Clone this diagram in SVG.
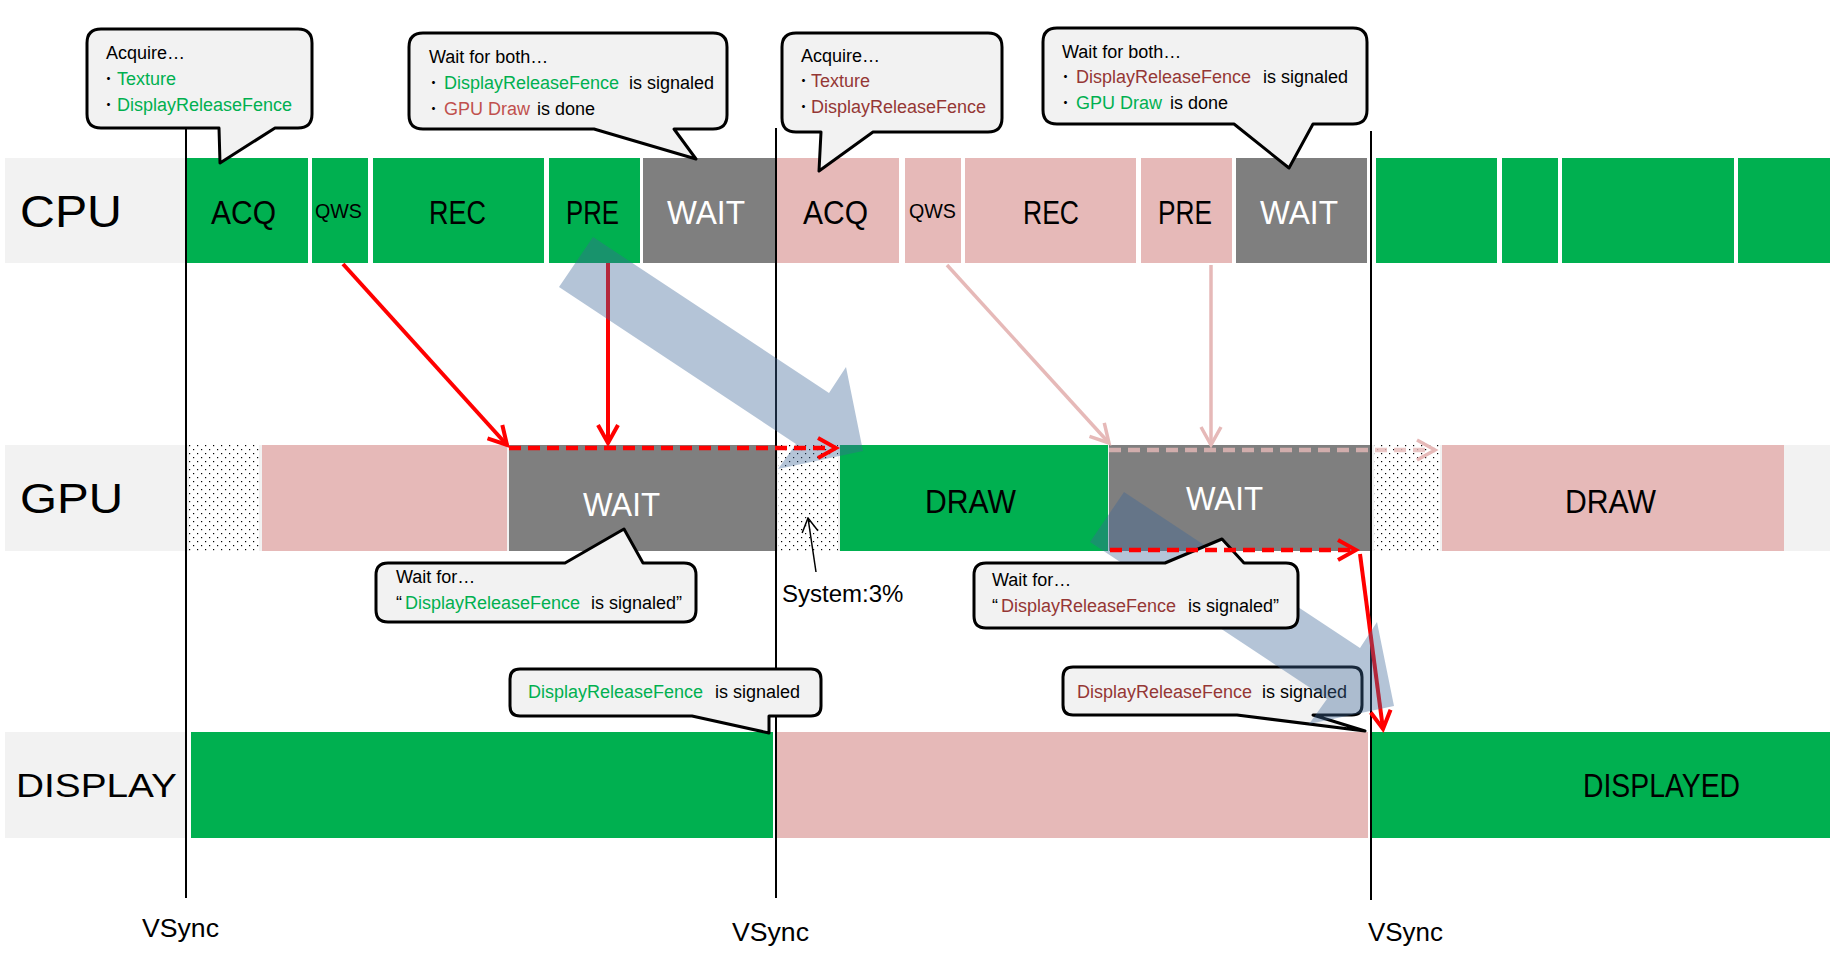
<svg xmlns="http://www.w3.org/2000/svg" width="1830" height="958" viewBox="0 0 1830 958">
<style>
.g{fill:#00B050}.p{fill:#E6B9B8}.k{fill:#7F7F7F}.lb{fill:#F2F2F2}
.lbl{font-family:"Liberation Sans",Arial,sans-serif;fill:#000}
.bx{font-family:"Liberation Sans",Arial,sans-serif;font-size:34px;fill:#000}
.qws{font-family:"Liberation Sans",Arial,sans-serif;font-size:20px;fill:#000}
.w{fill:#fff}
.ct{font-family:"Liberation Sans",Arial,"Noto Sans CJK JP",sans-serif;font-size:18px;fill:#000}
.gt{fill:#00B050}.rt{fill:#953735}.lr{fill:#C0504D}
.co{fill:#F2F2F2;stroke:#000;stroke-width:3;stroke-linejoin:round}
.vs{stroke:#000;stroke-width:2}
.flow{fill:#3D6697;fill-opacity:0.39}
</style>
<defs>
<pattern id="dots" width="8" height="8" patternUnits="userSpaceOnUse">
<rect width="8" height="8" fill="#fff"/>
<rect x="1" y="1" width="1.2" height="1.2" fill="#000"/>
<rect x="5" y="5" width="1.2" height="1.2" fill="#000"/>
</pattern>
<marker id="ar" viewBox="0 0 24 24" refX="20" refY="12" markerWidth="24" markerHeight="24" markerUnits="userSpaceOnUse" orient="auto">
<path d="M2,2 L20,12 L2,22" fill="none" stroke="#FF0000" stroke-width="4"/>
</marker>
<marker id="ap" viewBox="0 0 24 24" refX="20" refY="12" markerWidth="24" markerHeight="24" markerUnits="userSpaceOnUse" orient="auto">
<path d="M2,2 L20,12 L2,22" fill="none" stroke="#E6B9B8" stroke-width="3.5"/>
</marker>
<marker id="ak" viewBox="0 0 16 18" refX="15" refY="9" markerWidth="16" markerHeight="18" markerUnits="userSpaceOnUse" orient="auto">
<path d="M1,1 L15,9 L1,17" fill="none" stroke="#000" stroke-width="1.5"/>
</marker>
</defs>
<rect width="1830" height="958" fill="#fff"/>

<!-- row labels -->
<g id="row-cpu"><rect class="lb" x="5" y="158" width="181" height="105"/><text class="lbl" x="20" y="227" font-size="44" textLength="102" lengthAdjust="spacingAndGlyphs">CPU</text></g>
<g id="row-gpu"><rect class="lb" x="5" y="445" width="1825" height="106"/><text class="lbl" x="20" y="513" font-size="42" textLength="103" lengthAdjust="spacingAndGlyphs">GPU</text></g>
<g id="row-display"><rect class="lb" x="5" y="732" width="180" height="106"/><text class="lbl" x="16" y="797" font-size="34" textLength="161" lengthAdjust="spacingAndGlyphs">DISPLAY</text></g>

<!-- CPU boxes -->
<g id="cpu-acq1"><rect class="g" x="186" y="158" width="122" height="105"/><text class="bx" x="211" y="224" textLength="65" lengthAdjust="spacingAndGlyphs">ACQ</text></g>
<g id="cpu-qws1"><rect class="g" x="312" y="158" width="56" height="105"/><text class="qws" x="315" y="218" textLength="47" lengthAdjust="spacingAndGlyphs">QWS</text></g>
<g id="cpu-rec1"><rect class="g" x="373" y="158" width="171" height="105"/><text class="bx" x="429" y="224" textLength="57" lengthAdjust="spacingAndGlyphs">REC</text></g>
<g id="cpu-pre1"><rect class="g" x="549" y="158" width="91" height="105"/><text class="bx" x="566" y="224" textLength="53" lengthAdjust="spacingAndGlyphs">PRE</text></g>
<g id="cpu-wait1"><rect class="k" x="643" y="158" width="133" height="105"/><text class="bx w" x="667" y="224" textLength="78" lengthAdjust="spacingAndGlyphs">WAIT</text></g>
<g id="cpu-acq2"><rect class="p" x="777" y="158" width="122" height="105"/><text class="bx" x="803" y="224" textLength="65" lengthAdjust="spacingAndGlyphs">ACQ</text></g>
<g id="cpu-qws2"><rect class="p" x="905" y="158" width="56" height="105"/><text class="qws" x="909" y="218" textLength="47" lengthAdjust="spacingAndGlyphs">QWS</text></g>
<g id="cpu-rec2"><rect class="p" x="965" y="158" width="171" height="105"/><text class="bx" x="1023" y="224" textLength="56" lengthAdjust="spacingAndGlyphs">REC</text></g>
<g id="cpu-pre2"><rect class="p" x="1141" y="158" width="91" height="105"/><text class="bx" x="1158" y="224" textLength="54" lengthAdjust="spacingAndGlyphs">PRE</text></g>
<g id="cpu-wait2"><rect class="k" x="1236" y="158" width="131" height="105"/><text class="bx w" x="1260" y="224" textLength="78" lengthAdjust="spacingAndGlyphs">WAIT</text></g>
<g id="cpu-next1"><rect class="g" x="1376" y="158" width="121" height="105"/></g>
<g id="cpu-next2"><rect class="g" x="1502" y="158" width="56" height="105"/></g>
<g id="cpu-next3"><rect class="g" x="1562" y="158" width="172" height="105"/></g>
<g id="cpu-next4"><rect class="g" x="1738" y="158" width="92" height="105"/></g>

<!-- GPU boxes -->
<g id="gpu-idle1"><rect fill="url(#dots)" x="189" y="445" width="70" height="106"/></g>
<g id="gpu-prev"><rect class="p" x="262" y="445" width="245" height="106"/></g>
<g id="gpu-wait1"><rect class="k" x="509" y="445" width="266" height="106"/><text class="bx w" x="583" y="516" textLength="77" lengthAdjust="spacingAndGlyphs">WAIT</text></g>
<g id="gpu-idle2"><rect fill="url(#dots)" x="778" y="445" width="60" height="106"/></g>
<g id="gpu-draw1"><rect class="g" x="840" y="445" width="268" height="106"/><text class="bx" x="925" y="513" textLength="91" lengthAdjust="spacingAndGlyphs">DRAW</text></g>
<g id="gpu-wait2"><rect class="k" x="1109" y="445" width="262" height="106"/><text class="bx w" x="1186" y="510" textLength="77" lengthAdjust="spacingAndGlyphs">WAIT</text></g>
<g id="gpu-idle3"><rect fill="url(#dots)" x="1374" y="445" width="66" height="106"/></g>
<g id="gpu-draw2"><rect class="p" x="1442" y="445" width="342" height="106"/><text class="bx" x="1565" y="513" textLength="91" lengthAdjust="spacingAndGlyphs">DRAW</text></g>

<!-- Display boxes -->
<g id="disp-1"><rect class="g" x="191" y="732" width="582" height="106"/></g>
<g id="disp-2"><rect class="p" x="776" y="732" width="592" height="106"/></g>
<g id="disp-3"><rect class="g" x="1372" y="732" width="458" height="106"/><text class="bx" x="1583" y="797" textLength="157" lengthAdjust="spacingAndGlyphs">DISPLAYED</text></g>

<!-- VSync -->
<g id="vsync">
<line class="vs" x1="186" y1="128" x2="186" y2="898"/>
<line class="vs" x1="776" y1="128" x2="776" y2="898"/>
<line class="vs" x1="1371" y1="131" x2="1371" y2="900"/>
<text class="lbl" x="142" y="937" font-size="26" textLength="77" lengthAdjust="spacingAndGlyphs">VSync</text>
<text class="lbl" x="732" y="941" font-size="26" textLength="77" lengthAdjust="spacingAndGlyphs">VSync</text>
<text class="lbl" x="1368" y="941" font-size="26" textLength="75" lengthAdjust="spacingAndGlyphs">VSync</text>
</g>

<!-- solid connectors -->
<g id="connectors" fill="none">
<line x1="343" y1="264" x2="507" y2="445" stroke="#FF0000" stroke-width="4" marker-end="url(#ar)"/>
<line x1="608" y1="263" x2="608" y2="443" stroke="#FF0000" stroke-width="4" marker-end="url(#ar)"/>
<line x1="947" y1="265" x2="1109" y2="443" stroke="#E6B9B8" stroke-width="3.5" marker-end="url(#ap)"/>
<line x1="1211" y1="265" x2="1211" y2="445" stroke="#E6B9B8" stroke-width="3.5" marker-end="url(#ap)"/>
<line x1="1360" y1="554" x2="1383" y2="729" stroke="#FF0000" stroke-width="4" marker-end="url(#ar)"/>
<line x1="816" y1="572" x2="808" y2="518" stroke="#000" stroke-width="1.5" marker-end="url(#ak)"/>
</g>
<text class="lbl" x="782" y="602" font-size="24">System:3%</text>

<!-- fence signaled callouts -->
<g id="callout-fence1">
<path class="co" d="M520,669 H811 Q821,669 821,679 V706 Q821,716 811,716 H769 L769,733 L692,716 H520 Q510,716 510,706 V679 Q510,669 520,669 Z"/>
<text class="ct" x="528" y="698"><tspan class="gt">DisplayReleaseFence</tspan><tspan x="715">is signaled</tspan></text>
</g>
<g id="callout-fence2">
<path class="co" d="M1073,667 H1352 Q1362,667 1362,677 V705 Q1362,715 1352,715 H1313 L1365,731 L1237,715 H1073 Q1063,715 1063,705 V677 Q1063,667 1073,667 Z"/>
<text class="ct" x="1077" y="698"><tspan class="rt">DisplayReleaseFence</tspan><tspan x="1262">is signaled</tspan></text>
</g>

<!-- big flow arrows -->
<g id="flow-arrows">
<polygon class="flow" points="593,237 829,393 846,367 863,451 778,469 796,444 559,287"/>
<polygon class="flow" points="1124,492 1360,648 1377,622 1394,706 1309,724 1327,699 1090,542"/>
</g>

<!-- CPU callouts -->
<g id="callout-acq1">
<path class="co" d="M101,29 H298 Q312,29 312,43 V114 Q312,128 298,128 H275 L220,163 L219,128 H101 Q87,128 87,114 V43 Q87,29 101,29 Z"/>
<text class="ct" x="106" y="59">Acquire…</text>
<text class="ct" x="104" y="85">･<tspan class="gt" x="117">Texture</tspan></text>
<text class="ct" x="104" y="111">･<tspan class="gt" x="117">DisplayReleaseFence</tspan></text>
</g>
<g id="callout-wait1">
<path class="co" d="M423,33 H713 Q727,33 727,47 V115 Q727,129 713,129 H674 L696,159 L594,129 H423 Q409,129 409,115 V47 Q409,33 423,33 Z"/>
<text class="ct" x="429" y="63">Wait for both…</text>
<text class="ct" x="429" y="89">･<tspan class="gt" x="444">DisplayReleaseFence</tspan><tspan x="629">is signaled</tspan></text>
<text class="ct" x="429" y="115">･<tspan class="lr" x="444">GPU Draw</tspan><tspan x="537">is done</tspan></text>
</g>
<g id="callout-acq2">
<path class="co" d="M796,33 H988 Q1002,33 1002,47 V118 Q1002,132 988,132 H873 L819,171 L821,132 H796 Q782,132 782,118 V47 Q782,33 796,33 Z"/>
<text class="ct" x="801" y="62">Acquire…</text>
<text class="ct" x="799" y="87">･<tspan class="rt" x="811">Texture</tspan></text>
<text class="ct" x="799" y="113">･<tspan class="rt" x="811">DisplayReleaseFence</tspan></text>
</g>
<g id="callout-wait2">
<path class="co" d="M1057,28 H1353 Q1367,28 1367,42 V110 Q1367,124 1353,124 H1313 L1289,168 L1234,124 H1057 Q1043,124 1043,110 V42 Q1043,28 1057,28 Z"/>
<text class="ct" x="1062" y="58">Wait for both…</text>
<text class="ct" x="1061" y="83">･<tspan class="rt" x="1076">DisplayReleaseFence</tspan><tspan x="1263">is signaled</tspan></text>
<text class="ct" x="1061" y="109">･<tspan class="gt" x="1076">GPU Draw</tspan><tspan x="1170">is done</tspan></text>
</g>

<!-- GPU callouts -->
<g id="callout-gpuwait1">
<path class="co" d="M388,563 H565 L624,529 L643,563 H684 Q696,563 696,575 V610 Q696,622 684,622 H388 Q376,622 376,610 V575 Q376,563 388,563 Z"/>
<text class="ct" x="396" y="583">Wait for…</text>
<text class="ct" x="396" y="609">“<tspan class="gt" x="405">DisplayReleaseFence</tspan><tspan x="591">is signaled”</tspan></text>
</g>
<g id="callout-gpuwait2">
<path class="co" d="M986,563 H1165 L1222,539 L1244,563 H1286 Q1298,563 1298,575 V616 Q1298,628 1286,628 H986 Q974,628 974,616 V575 Q974,563 986,563 Z"/>
<text class="ct" x="992" y="586">Wait for…</text>
<text class="ct" x="992" y="612">“<tspan class="rt" x="1001">DisplayReleaseFence</tspan><tspan x="1188">is signaled”</tspan></text>
</g>

<!-- wait connectors (dashed) -->
<g id="wait-connectors" fill="none">
<line x1="509" y1="448" x2="836" y2="448" stroke="#FF0000" stroke-width="4.5" stroke-dasharray="12 7" marker-end="url(#ar)"/>
<line x1="1109" y1="450" x2="1435" y2="450" stroke="#E6B9B8" stroke-opacity="0.8" stroke-width="4.5" stroke-dasharray="12 7" marker-end="url(#ap)"/>
<line x1="1110" y1="550" x2="1356" y2="550" stroke="#FF0000" stroke-width="4.5" stroke-dasharray="12 7" marker-end="url(#ar)"/>
</g>
</svg>
